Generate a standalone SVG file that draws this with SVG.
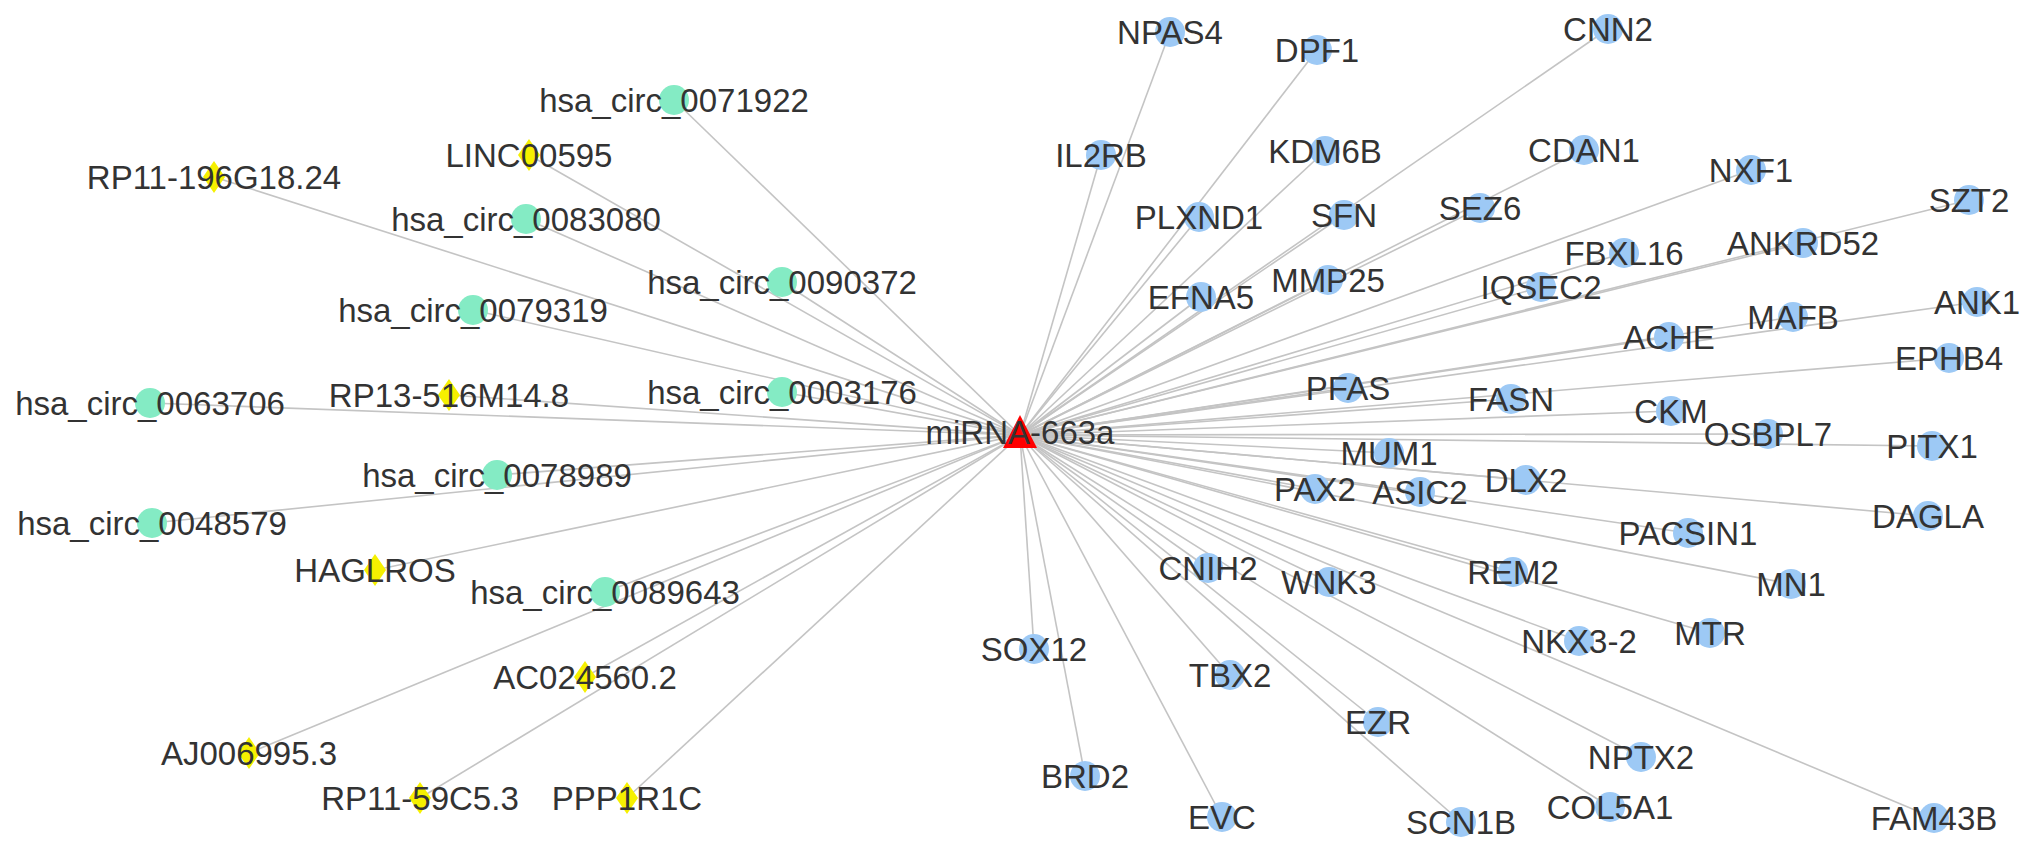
<svg xmlns="http://www.w3.org/2000/svg" xmlns:xlink="http://www.w3.org/1999/xlink" width="2031" height="849" viewBox="0 0 2031 849">
<style>
.e{stroke:#c4c4c4;stroke-width:1.6;fill:none}
.b{fill:#9dc9f5}
.g{fill:#84ebc4}
.y{fill:#f6f000}
.t{font-family:"Liberation Sans",Arial,sans-serif;font-size:33px;fill:#333;text-anchor:middle}
</style>
<defs>
<path id="dia" d="M0,-16 L11,0 L0,16 L-11,0 Z"/>
</defs>
<rect width="2031" height="849" fill="#fff"/>
<g id="edges">
<line class="e" x1="1020" y1="435" x2="674" y2="100"/>
<line class="e" x1="1020" y1="435" x2="529" y2="155"/>
<line class="e" x1="1020" y1="435" x2="214" y2="177"/>
<line class="e" x1="1020" y1="435" x2="526" y2="219"/>
<line class="e" x1="1020" y1="435" x2="782" y2="282"/>
<line class="e" x1="1020" y1="435" x2="473" y2="310"/>
<line class="e" x1="1020" y1="435" x2="782" y2="392"/>
<line class="e" x1="1020" y1="435" x2="449" y2="395"/>
<line class="e" x1="1020" y1="435" x2="150" y2="403"/>
<line class="e" x1="1020" y1="435" x2="497" y2="475"/>
<line class="e" x1="1020" y1="435" x2="152" y2="523"/>
<line class="e" x1="1020" y1="435" x2="375" y2="570"/>
<line class="e" x1="1020" y1="435" x2="605" y2="592"/>
<line class="e" x1="1020" y1="435" x2="585" y2="677"/>
<line class="e" x1="1020" y1="435" x2="249" y2="753"/>
<line class="e" x1="1020" y1="435" x2="420" y2="798"/>
<line class="e" x1="1020" y1="435" x2="627" y2="798"/>
<line class="e" x1="1020" y1="435" x2="1170" y2="32"/>
<line class="e" x1="1020" y1="435" x2="1317" y2="50"/>
<line class="e" x1="1020" y1="435" x2="1608" y2="29"/>
<line class="e" x1="1020" y1="435" x2="1101" y2="155"/>
<line class="e" x1="1020" y1="435" x2="1325" y2="151"/>
<line class="e" x1="1020" y1="435" x2="1584" y2="150"/>
<line class="e" x1="1020" y1="435" x2="1751" y2="170"/>
<line class="e" x1="1020" y1="435" x2="1969" y2="200"/>
<line class="e" x1="1020" y1="435" x2="1199" y2="217"/>
<line class="e" x1="1020" y1="435" x2="1344" y2="215"/>
<line class="e" x1="1020" y1="435" x2="1480" y2="208"/>
<line class="e" x1="1020" y1="435" x2="1624" y2="253"/>
<line class="e" x1="1020" y1="435" x2="1803" y2="243"/>
<line class="e" x1="1020" y1="435" x2="1201" y2="297"/>
<line class="e" x1="1020" y1="435" x2="1328" y2="280"/>
<line class="e" x1="1020" y1="435" x2="1541" y2="287"/>
<line class="e" x1="1020" y1="435" x2="1793" y2="317"/>
<line class="e" x1="1020" y1="435" x2="1977" y2="302"/>
<line class="e" x1="1020" y1="435" x2="1669" y2="337"/>
<line class="e" x1="1020" y1="435" x2="1949" y2="358"/>
<line class="e" x1="1020" y1="435" x2="1348" y2="388"/>
<line class="e" x1="1020" y1="435" x2="1511" y2="399"/>
<line class="e" x1="1020" y1="435" x2="1671" y2="411"/>
<line class="e" x1="1020" y1="435" x2="1768" y2="434"/>
<line class="e" x1="1020" y1="435" x2="1932" y2="446"/>
<line class="e" x1="1020" y1="435" x2="1389" y2="453"/>
<line class="e" x1="1020" y1="435" x2="1526" y2="480"/>
<line class="e" x1="1020" y1="435" x2="1315" y2="489"/>
<line class="e" x1="1020" y1="435" x2="1420" y2="492"/>
<line class="e" x1="1020" y1="435" x2="1928" y2="516"/>
<line class="e" x1="1020" y1="435" x2="1688" y2="533"/>
<line class="e" x1="1020" y1="435" x2="1208" y2="568"/>
<line class="e" x1="1020" y1="435" x2="1329" y2="582"/>
<line class="e" x1="1020" y1="435" x2="1513" y2="572"/>
<line class="e" x1="1020" y1="435" x2="1791" y2="584"/>
<line class="e" x1="1020" y1="435" x2="1579" y2="641"/>
<line class="e" x1="1020" y1="435" x2="1710" y2="633"/>
<line class="e" x1="1020" y1="435" x2="1034" y2="649"/>
<line class="e" x1="1020" y1="435" x2="1230" y2="675"/>
<line class="e" x1="1020" y1="435" x2="1378" y2="722"/>
<line class="e" x1="1020" y1="435" x2="1641" y2="757"/>
<line class="e" x1="1020" y1="435" x2="1085" y2="776"/>
<line class="e" x1="1020" y1="435" x2="1222" y2="817"/>
<line class="e" x1="1020" y1="435" x2="1461" y2="822"/>
<line class="e" x1="1020" y1="435" x2="1610" y2="807"/>
<line class="e" x1="1020" y1="435" x2="1934" y2="818"/>
</g>
<g id="n-hsa_circ_0071922"><circle class="g" cx="674" cy="100" r="15"/><text class="t" x="674" y="112">hsa_circ_0071922</text></g>
<g id="n-LINC00595"><use xlink:href="#dia" class="y" x="529" y="155"/><text class="t" x="529" y="167">LINC00595</text></g>
<g id="n-RP11-196G18.24"><use xlink:href="#dia" class="y" x="214" y="177"/><text class="t" x="214" y="189">RP11-196G18.24</text></g>
<g id="n-hsa_circ_0083080"><circle class="g" cx="526" cy="219" r="15"/><text class="t" x="526" y="231">hsa_circ_0083080</text></g>
<g id="n-hsa_circ_0090372"><circle class="g" cx="782" cy="282" r="15"/><text class="t" x="782" y="294">hsa_circ_0090372</text></g>
<g id="n-hsa_circ_0079319"><circle class="g" cx="473" cy="310" r="15"/><text class="t" x="473" y="322">hsa_circ_0079319</text></g>
<g id="n-hsa_circ_0003176"><circle class="g" cx="782" cy="392" r="15"/><text class="t" x="782" y="404">hsa_circ_0003176</text></g>
<g id="n-RP13-516M14.8"><use xlink:href="#dia" class="y" x="449" y="395"/><text class="t" x="449" y="407">RP13-516M14.8</text></g>
<g id="n-hsa_circ_0063706"><circle class="g" cx="150" cy="403" r="15"/><text class="t" x="150" y="415">hsa_circ_0063706</text></g>
<g id="n-hsa_circ_0078989"><circle class="g" cx="497" cy="475" r="15"/><text class="t" x="497" y="487">hsa_circ_0078989</text></g>
<g id="n-hsa_circ_0048579"><circle class="g" cx="152" cy="523" r="15"/><text class="t" x="152" y="535">hsa_circ_0048579</text></g>
<g id="n-HAGLROS"><use xlink:href="#dia" class="y" x="375" y="570"/><text class="t" x="375" y="582">HAGLROS</text></g>
<g id="n-hsa_circ_0089643"><circle class="g" cx="605" cy="592" r="15"/><text class="t" x="605" y="604">hsa_circ_0089643</text></g>
<g id="n-AC024560.2"><use xlink:href="#dia" class="y" x="585" y="677"/><text class="t" x="585" y="689">AC024560.2</text></g>
<g id="n-AJ006995.3"><use xlink:href="#dia" class="y" x="249" y="753"/><text class="t" x="249" y="765">AJ006995.3</text></g>
<g id="n-RP11-59C5.3"><use xlink:href="#dia" class="y" x="420" y="798"/><text class="t" x="420" y="810">RP11-59C5.3</text></g>
<g id="n-PPP1R1C"><use xlink:href="#dia" class="y" x="627" y="798"/><text class="t" x="627" y="810">PPP1R1C</text></g>
<g id="n-NPAS4"><circle class="b" cx="1170" cy="32" r="15"/><text class="t" x="1170" y="44">NPAS4</text></g>
<g id="n-DPF1"><circle class="b" cx="1317" cy="50" r="15"/><text class="t" x="1317" y="62">DPF1</text></g>
<g id="n-CNN2"><circle class="b" cx="1608" cy="29" r="15"/><text class="t" x="1608" y="41">CNN2</text></g>
<g id="n-IL2RB"><circle class="b" cx="1101" cy="155" r="15"/><text class="t" x="1101" y="167">IL2RB</text></g>
<g id="n-KDM6B"><circle class="b" cx="1325" cy="151" r="15"/><text class="t" x="1325" y="163">KDM6B</text></g>
<g id="n-CDAN1"><circle class="b" cx="1584" cy="150" r="15"/><text class="t" x="1584" y="162">CDAN1</text></g>
<g id="n-NXF1"><circle class="b" cx="1751" cy="170" r="15"/><text class="t" x="1751" y="182">NXF1</text></g>
<g id="n-SZT2"><circle class="b" cx="1969" cy="200" r="15"/><text class="t" x="1969" y="212">SZT2</text></g>
<g id="n-PLXND1"><circle class="b" cx="1199" cy="217" r="15"/><text class="t" x="1199" y="229">PLXND1</text></g>
<g id="n-SFN"><circle class="b" cx="1344" cy="215" r="15"/><text class="t" x="1344" y="227">SFN</text></g>
<g id="n-SEZ6"><circle class="b" cx="1480" cy="208" r="15"/><text class="t" x="1480" y="220">SEZ6</text></g>
<g id="n-FBXL16"><circle class="b" cx="1624" cy="253" r="15"/><text class="t" x="1624" y="265">FBXL16</text></g>
<g id="n-ANKRD52"><circle class="b" cx="1803" cy="243" r="15"/><text class="t" x="1803" y="255">ANKRD52</text></g>
<g id="n-EFNA5"><circle class="b" cx="1201" cy="297" r="15"/><text class="t" x="1201" y="309">EFNA5</text></g>
<g id="n-MMP25"><circle class="b" cx="1328" cy="280" r="15"/><text class="t" x="1328" y="292">MMP25</text></g>
<g id="n-IQSEC2"><circle class="b" cx="1541" cy="287" r="15"/><text class="t" x="1541" y="299">IQSEC2</text></g>
<g id="n-MAFB"><circle class="b" cx="1793" cy="317" r="15"/><text class="t" x="1793" y="329">MAFB</text></g>
<g id="n-ANK1"><circle class="b" cx="1977" cy="302" r="15"/><text class="t" x="1977" y="314">ANK1</text></g>
<g id="n-ACHE"><circle class="b" cx="1669" cy="337" r="15"/><text class="t" x="1669" y="349">ACHE</text></g>
<g id="n-EPHB4"><circle class="b" cx="1949" cy="358" r="15"/><text class="t" x="1949" y="370">EPHB4</text></g>
<g id="n-PFAS"><circle class="b" cx="1348" cy="388" r="15"/><text class="t" x="1348" y="400">PFAS</text></g>
<g id="n-FASN"><circle class="b" cx="1511" cy="399" r="15"/><text class="t" x="1511" y="411">FASN</text></g>
<g id="n-CKM"><circle class="b" cx="1671" cy="411" r="15"/><text class="t" x="1671" y="423">CKM</text></g>
<g id="n-OSBPL7"><circle class="b" cx="1768" cy="434" r="15"/><text class="t" x="1768" y="446">OSBPL7</text></g>
<g id="n-PITX1"><circle class="b" cx="1932" cy="446" r="15"/><text class="t" x="1932" y="458">PITX1</text></g>
<g id="n-MUM1"><circle class="b" cx="1389" cy="453" r="15"/><text class="t" x="1389" y="465">MUM1</text></g>
<g id="n-DLX2"><circle class="b" cx="1526" cy="480" r="15"/><text class="t" x="1526" y="492">DLX2</text></g>
<g id="n-PAX2"><circle class="b" cx="1315" cy="489" r="15"/><text class="t" x="1315" y="501">PAX2</text></g>
<g id="n-ASIC2"><circle class="b" cx="1420" cy="492" r="15"/><text class="t" x="1420" y="504">ASIC2</text></g>
<g id="n-DAGLA"><circle class="b" cx="1928" cy="516" r="15"/><text class="t" x="1928" y="528">DAGLA</text></g>
<g id="n-PACSIN1"><circle class="b" cx="1688" cy="533" r="15"/><text class="t" x="1688" y="545">PACSIN1</text></g>
<g id="n-CNIH2"><circle class="b" cx="1208" cy="568" r="15"/><text class="t" x="1208" y="580">CNIH2</text></g>
<g id="n-WNK3"><circle class="b" cx="1329" cy="582" r="15"/><text class="t" x="1329" y="594">WNK3</text></g>
<g id="n-REM2"><circle class="b" cx="1513" cy="572" r="15"/><text class="t" x="1513" y="584">REM2</text></g>
<g id="n-MN1"><circle class="b" cx="1791" cy="584" r="15"/><text class="t" x="1791" y="596">MN1</text></g>
<g id="n-NKX3-2"><circle class="b" cx="1579" cy="641" r="15"/><text class="t" x="1579" y="653">NKX3-2</text></g>
<g id="n-MTR"><circle class="b" cx="1710" cy="633" r="15"/><text class="t" x="1710" y="645">MTR</text></g>
<g id="n-SOX12"><circle class="b" cx="1034" cy="649" r="15"/><text class="t" x="1034" y="661">SOX12</text></g>
<g id="n-TBX2"><circle class="b" cx="1230" cy="675" r="15"/><text class="t" x="1230" y="687">TBX2</text></g>
<g id="n-EZR"><circle class="b" cx="1378" cy="722" r="15"/><text class="t" x="1378" y="734">EZR</text></g>
<g id="n-NPTX2"><circle class="b" cx="1641" cy="757" r="15"/><text class="t" x="1641" y="769">NPTX2</text></g>
<g id="n-BRD2"><circle class="b" cx="1085" cy="776" r="15"/><text class="t" x="1085" y="788">BRD2</text></g>
<g id="n-EVC"><circle class="b" cx="1222" cy="817" r="15"/><text class="t" x="1222" y="829">EVC</text></g>
<g id="n-SCN1B"><circle class="b" cx="1461" cy="822" r="15"/><text class="t" x="1461" y="834">SCN1B</text></g>
<g id="n-COL5A1"><circle class="b" cx="1610" cy="807" r="15"/><text class="t" x="1610" y="819">COL5A1</text></g>
<g id="n-FAM43B"><circle class="b" cx="1934" cy="818" r="15"/><text class="t" x="1934" y="830">FAM43B</text></g>
<g id="n-miRNA-663a"><path d="M1020,415 L1037,448 L1003,448 Z" fill="#ff0000"/><text class="t" x="1020" y="444">miRNA-663a</text></g>
</svg>
